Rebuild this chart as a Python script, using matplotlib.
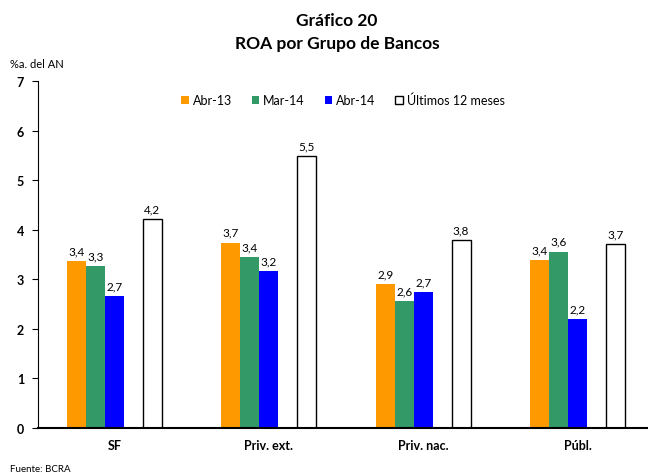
import numpy as np
import matplotlib
matplotlib.use('Agg')
import matplotlib.pyplot as plt

plt.rcParams['font.family'] = ['Lato', 'DejaVu Sans']

grupos = ['SF', 'Priv. ext.', 'Priv. nac.', 'Públ.']
abr13 = [3.37, 3.74, 2.90, 3.39]
mar14 = [3.27, 3.44, 2.56, 3.56]
abr14 = [2.66, 3.16, 2.74, 2.20]
ult12 = [4.21, 5.48, 3.79, 3.71]

series = [('Abr-13', abr13, '#FF9900', 'none', -2),
          ('Mar-14', mar14, '#339966', 'none', -1),
          ('Abr-14', abr14, '#0000FF', 'none', 0),
          ('Últimos 12 meses', ult12, 'white', 'black', 2)]

fig = plt.figure(figsize=(6.48, 4.77), dpi=100)
ax = fig.add_axes([0.0586, 0.1006, 0.9414, 0.7275])

x = np.arange(len(grupos))
w = 0.123
for nombre, vals, col, ec, pos in series:
    bars = ax.bar(x + pos * w, vals, w, color=col, edgecolor=ec,
                  linewidth=1.0 if ec != 'none' else 0, label=nombre)
    for b, v in zip(bars, vals):
        ax.text(b.get_x() + b.get_width() / 2, v + 0.1,
                ('%.1f' % v).replace('.', ','), ha='center', va='bottom',
                fontsize=8.5)

ax.set_xlim(-0.496, 3.457)
ax.set_ylim(0, 7)
ax.set_yticks(range(0, 8))
ax.set_xticks(x)
ax.set_xticklabels(grupos, fontweight='bold', fontsize=9)
for t in ax.get_yticklabels():
    t.set_fontweight('bold')
    t.set_fontsize(9)
ax.tick_params(axis='x', length=0, pad=8)
ax.tick_params(axis='y', direction='out', length=4, width=0.8, pad=6)
ax.spines['top'].set_visible(False)
ax.spines['right'].set_visible(False)
ax.spines['left'].set_linewidth(0.8)
ax.spines['bottom'].set_linewidth(1.5)

leg = ax.legend(loc='upper center', bbox_to_anchor=(0.5, 0.995), ncol=4,
                frameon=False, fontsize=9, handlelength=0.6,
                handleheight=0.6, handletextpad=0.3, columnspacing=1.6)

fig.text(0.52, 0.956, 'Gráfico 20', ha='center', va='center',
         fontsize=12.5, fontweight='bold')
fig.text(0.52, 0.908, 'ROA por Grupo de Bancos', ha='center', va='center',
         fontsize=12.5, fontweight='bold')
fig.text(0.015, 0.864, '%a. del AN', ha='left', va='center', fontsize=8)
fig.text(0.015, 0.015, 'Fuente: BCRA', ha='left', va='center', fontsize=7)

fig.savefig('out.png', dpi=100)
